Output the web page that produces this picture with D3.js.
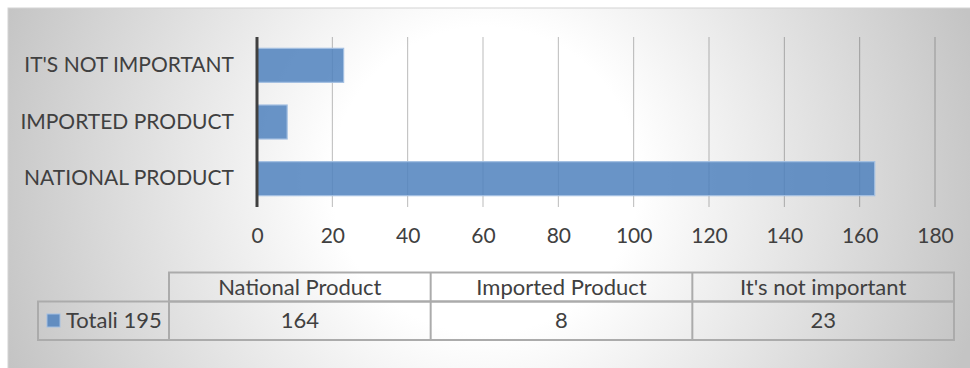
<!DOCTYPE html>
<html>
<head>
<meta charset="utf-8">
<script src="https://cdn.jsdelivr.net/npm/d3@7"></script>
<style>
  html, body { margin: 0; padding: 0; background: #ffffff; }
  svg { display: block; }
  text { font-family: Lato, "Open Sans", sans-serif; fill: #404040; }
</style>
</head>
<body>
<svg id="chart" width="970" height="368"></svg>
<script>
// Survey answers: preference for national vs imported product
const categories = ["National Product", "Imported Product", "It's not important"];
const values = [164, 8, 23];
const seriesName = "Totali 195";
const xTicks = [0, 20, 40, 60, 80, 100, 120, 140, 160, 180];

const W = 970, H = 368;
const svg = d3.select("#chart");

// Chart area with a radial grey-to-white fill
const defs = svg.append("defs");
const grad = defs.append("radialGradient")
  .attr("id", "bg")
  .attr("gradientUnits", "userSpaceOnUse")
  .attr("cx", 485).attr("cy", 180).attr("r", 510);
grad.append("stop").attr("offset", 0).attr("stop-color", "#ffffff");
grad.append("stop").attr("offset", 0.3).attr("stop-color", "#ffffff");
grad.append("stop").attr("offset", 1).attr("stop-color", "#c4c4c4");

svg.append("rect")
  .attr("x", 8).attr("y", 8).attr("width", W).attr("height", H)
  .attr("fill", "url(#bg)")
  .attr("stroke", "#d4d4d4").attr("stroke-width", 1);

// Plot area
const plot = { left: 257, right: 935, top: 37, bottom: 207 };

const x = d3.scaleLinear().domain([0, 180]).range([plot.left, plot.right]);
const y = d3.scaleBand()
  .domain(categories.slice().reverse())
  .range([plot.top, plot.bottom])
  .paddingInner(0.4)
  .paddingOuter(0.2);

// Vertical gridlines
svg.append("g")
  .selectAll("line")
  .data(xTicks.filter(d => d !== 0))
  .join("line")
  .attr("x1", d => x(d)).attr("x2", d => x(d))
  .attr("y1", plot.top).attr("y2", plot.bottom)
  .attr("stroke", "rgba(0,0,0,0.27)")
  .attr("stroke-width", 1);

// Bars
svg.append("g")
  .selectAll("rect")
  .data(categories.map((c, i) => ({ c, v: values[i] })))
  .join("rect")
  .attr("x", x(0))
  .attr("y", d => y(d.c))
  .attr("width", d => x(d.v) - x(0))
  .attr("height", y.bandwidth())
  .attr("fill", "#4f81bd")
  .attr("fill-opacity", 0.85)
  .attr("stroke", "#a3bfe2")
  .attr("stroke-width", 1.2);

// Category axis (vertical line at zero)
const yAxis = svg.append("g")
  .attr("transform", `translate(${plot.left},0)`)
  .call(d3.axisLeft(y).tickSize(0).tickPadding(23).tickFormat(d => d.toUpperCase()));
yAxis.select(".domain").remove();
yAxis.selectAll("text")
  .attr("font-size", 21)
  .attr("fill", "#404040")
  .style("font-family", "Lato, sans-serif");

svg.append("line")
  .attr("x1", x(0)).attr("x2", x(0))
  .attr("y1", plot.top).attr("y2", plot.bottom)
  .attr("stroke", "#404040").attr("stroke-width", 3);

// Value axis labels
const xAxis = svg.append("g")
  .attr("transform", `translate(0,${plot.bottom})`)
  .call(d3.axisBottom(x).tickValues(xTicks).tickSize(0).tickPadding(21));
xAxis.select(".domain").remove();
xAxis.selectAll("text")
  .attr("font-size", 21)
  .attr("fill", "#404040")
  .style("font-family", "Lato, sans-serif");

// Data table under the chart
const col = d3.scaleBand().domain(categories).range([169, 954]);
const table = { keyLeft: 38, headTop: 272.5, rowTop: 301.5, bottom: 340 };
const tg = svg.append("g")
  .attr("fill", "none").attr("stroke", "#ababab").attr("stroke-width", 2);

tg.append("rect")
  .attr("x", col.range()[0]).attr("y", table.headTop)
  .attr("width", col.range()[1] - col.range()[0])
  .attr("height", table.rowTop - table.headTop);
tg.append("rect")
  .attr("x", table.keyLeft).attr("y", table.rowTop)
  .attr("width", col.range()[1] - table.keyLeft)
  .attr("height", table.bottom - table.rowTop);
tg.selectAll("line.col")
  .data(categories)
  .join("line")
  .attr("class", "col")
  .attr("x1", d => col(d)).attr("x2", d => col(d))
  .attr("y1", d => col(d) === col.range()[0] ? table.rowTop : table.headTop)
  .attr("y2", table.bottom);

svg.append("g")
  .selectAll("text")
  .data(categories)
  .join("text")
  .attr("x", d => col(d) + col.bandwidth() / 2)
  .attr("y", (table.headTop + table.rowTop) / 2)
  .attr("dy", "0.35em")
  .attr("text-anchor", "middle")
  .attr("font-size", 22)
  .text(d => d);

svg.append("g")
  .selectAll("text")
  .data(values)
  .join("text")
  .attr("x", (d, i) => col(categories[i]) + col.bandwidth() / 2)
  .attr("y", (table.rowTop + table.bottom) / 2)
  .attr("dy", "0.35em")
  .attr("text-anchor", "middle")
  .attr("font-size", 22)
  .text(d => d);

// Legend key and series name
svg.append("rect")
  .attr("x", 47).attr("y", 314).attr("width", 13).attr("height", 13)
  .attr("fill", "#4f81bd").attr("fill-opacity", 0.85)
  .attr("stroke", "#a3bfe2").attr("stroke-width", 1);
svg.append("text")
  .attr("x", 66).attr("y", (table.rowTop + table.bottom) / 2)
  .attr("dy", "0.35em")
  .attr("font-size", 22)
  .text(seriesName);
</script>
</body>
</html>
